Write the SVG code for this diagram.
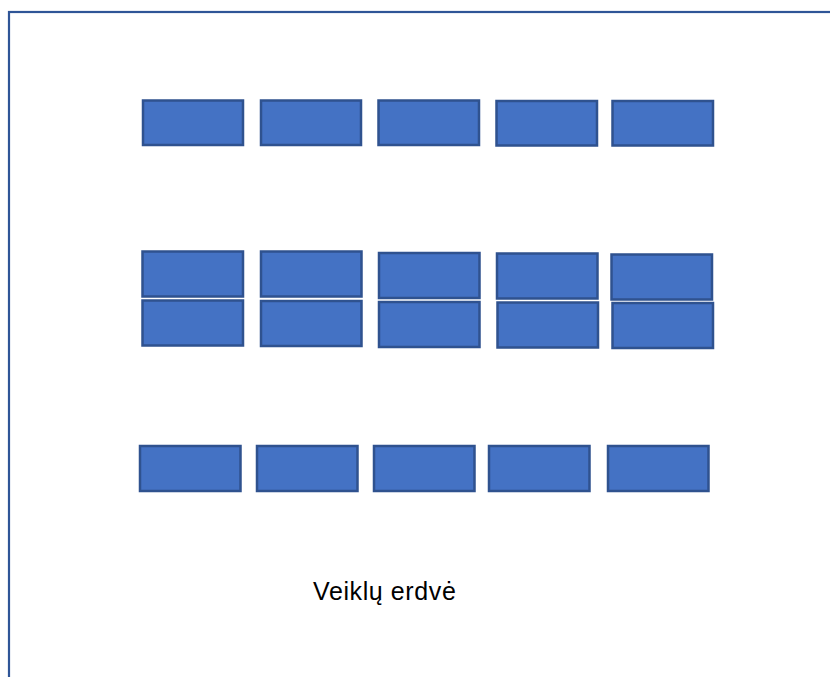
<svg xmlns="http://www.w3.org/2000/svg" width="830" height="677" viewBox="0 0 830 677">
<style>
.frame{fill:none;stroke:#2F5597;stroke-width:2.2}
.b{fill:#4472C4;stroke:#2F528F;stroke-width:2.5}
.t{font-family:"Liberation Sans",Arial,sans-serif;font-size:25px;letter-spacing:0.6px;fill:#000}
</style>
<rect width="830" height="677" fill="#fff"/>
<g id="frame"><rect class="frame" x="9" y="12" width="900" height="900"/></g>
<g id="row1">
<g id="n1"><rect class="b" x="143" y="100.5" width="100" height="44.5"/></g>
<g id="n2"><rect class="b" x="261" y="100.5" width="100" height="44.5"/></g>
<g id="n3"><rect class="b" x="378.5" y="100.5" width="100.5" height="44.5"/></g>
<g id="n4"><rect class="b" x="496.5" y="101" width="100.5" height="44.5"/></g>
<g id="n5"><rect class="b" x="612.5" y="101" width="100.5" height="44.5"/></g>
</g>
<g id="row2">
<g id="n6"><rect class="b" x="142.5" y="251.5" width="100.5" height="45"/></g>
<g id="n7"><rect class="b" x="261" y="251.5" width="100.5" height="45"/></g>
<g id="n8"><rect class="b" x="379" y="253" width="100.5" height="45"/></g>
<g id="n9"><rect class="b" x="497" y="253.5" width="100.5" height="45"/></g>
<g id="n10"><rect class="b" x="611.5" y="254.5" width="100.5" height="45"/></g>
</g>
<g id="row3">
<g id="n11"><rect class="b" x="142.5" y="300.5" width="100.5" height="45"/></g>
<g id="n12"><rect class="b" x="261" y="301" width="100.5" height="45"/></g>
<g id="n13"><rect class="b" x="379" y="302" width="100.5" height="45"/></g>
<g id="n14"><rect class="b" x="497.5" y="302.5" width="100.5" height="45"/></g>
<g id="n15"><rect class="b" x="612.5" y="303" width="100.5" height="45"/></g>
</g>
<g id="row4">
<g id="n16"><rect class="b" x="140" y="446" width="100.5" height="45"/></g>
<g id="n17"><rect class="b" x="257" y="446" width="100.5" height="45"/></g>
<g id="n18"><rect class="b" x="374" y="446" width="100.5" height="45"/></g>
<g id="n19"><rect class="b" x="489" y="446" width="100.5" height="45"/></g>
<g id="n20"><rect class="b" x="608" y="446" width="100.5" height="45"/></g>
</g>
<g id="label"><text class="t" x="313" y="599.5">Veiklų erdvė</text></g>
</svg>
